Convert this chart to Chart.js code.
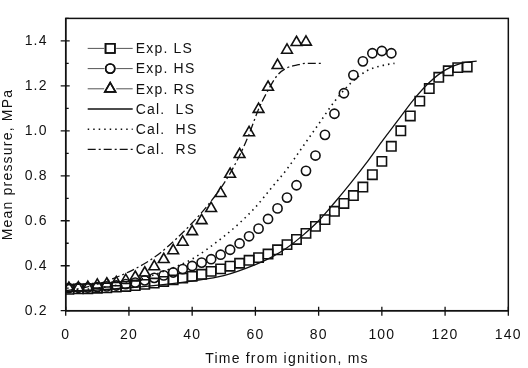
<!DOCTYPE html>
<html>
<head>
<meta charset="utf-8">
<script src="https://cdn.jsdelivr.net/npm/chart.js@4.4.1/dist/chart.umd.min.js"></script>
<style>
html,body{margin:0;padding:0;background:#fff;}
#wrap{width:528px;height:368px;}
</style>
</head>
<body>
<div id="wrap"><canvas id="c" width="528" height="368"></canvas></div>
<script>
// ---- data ----
const expLSTime = [1,4,7,10,13,16,19,22,25,28,31,34,37,40,43,46,49,52,55,58,61,64,67,70,73,76,79,82,85,88,91,94,97,100,103,106,109,112,115,118,121,124,127];
const expLSPressure = [0.295,0.297,0.298,0.300,0.302,0.305,0.308,0.312,0.317,0.323,0.330,0.337,0.345,0.353,0.362,0.375,0.386,0.398,0.411,0.424,0.436,0.452,0.471,0.494,0.517,0.544,0.575,0.605,0.642,0.677,0.712,0.750,0.805,0.864,0.931,1.000,1.066,1.132,1.188,1.238,1.267,1.281,1.284];

const expHSTime = [1,4,7,10,13,16,19,22,25,28,31,34,37,40,43,46,49,52,55,58,61,64,67,70,73,76,79,82,85,88,91,94,97,100,103];
const expHSPressure = [0.300,0.302,0.303,0.305,0.308,0.312,0.318,0.325,0.335,0.346,0.357,0.370,0.385,0.399,0.414,0.429,0.449,0.471,0.499,0.531,0.565,0.608,0.655,0.703,0.758,0.822,0.890,0.982,1.076,1.167,1.248,1.309,1.345,1.355,1.345];

const expRSTime = [1,4,7,10,13,16,19,22,25,28,31,34,37,40,43,46,49,52,55,58,61,64,67,70,73,76];
const expRSPressure = [0.300,0.302,0.304,0.314,0.319,0.325,0.335,0.349,0.368,0.396,0.428,0.467,0.505,0.552,0.601,0.655,0.722,0.807,0.895,0.992,1.096,1.194,1.291,1.359,1.393,1.395];

const calLSTime = [0,10,20,30,40,50,60,65,70,75,80,85,90,95,100,105,110,115,120,125,130];
const calLSPressure = [0.285,0.292,0.302,0.315,0.332,0.356,0.405,0.437,0.480,0.535,0.600,0.680,0.765,0.855,0.952,1.045,1.138,1.215,1.270,1.300,1.310];

const calHSTime = [0,10,20,30,40,50,55,60,65,70,75,80,85,90,95,100,104];
const calHSPressure = [0.290,0.300,0.325,0.370,0.430,0.530,0.590,0.660,0.745,0.830,0.930,1.030,1.130,1.210,1.265,1.290,1.300];

const calRSTime = [0,5,10,15,20,25,30,35,40,45,50,55,58,61,64,67,70,73,76,81];
const calRSPressure = [0.290,0.300,0.318,0.343,0.373,0.410,0.458,0.520,0.590,0.670,0.765,0.890,0.985,1.096,1.180,1.248,1.280,1.292,1.300,1.300];

const seriesLabels = ['Exp. LS','Exp. HS','Exp. RS','Cal.  LS','Cal.  HS','Cal.  RS'];
const xTickLabels = ['0','20','40','60','80','100','120','140'];
const yTickLabels = ['0.2','0.4','0.6','0.8','1.0','1.2','1.4'];
const xTitle = 'Time from ignition, ms';
const yTitle = 'Mean pressure, MPa';

// ---- build chart ----
const INK = '#111';
const FONT = "'Liberation Sans', Arial, sans-serif";
const pts = (xs, ys) => xs.map((x, i) => ({x, y: ys[i]}));

const markerDS = (label, xs, ys, style, r) => ({
  label, data: pts(xs, ys), showLine: false,
  pointStyle: style, pointRadius: r, pointHoverRadius: r,
  pointBorderWidth: 1.6, pointBorderColor: INK, pointBackgroundColor: 'rgba(0,0,0,0)',
  borderColor: '#666', borderWidth: 1
});
const lineDS = (label, xs, ys, dash, w) => ({
  label, data: pts(xs, ys), showLine: true, pointRadius: 0, pointHoverRadius: 0,
  borderColor: INK, borderWidth: w, borderDash: dash, fill: false,
  cubicInterpolationMode: 'monotone'
});

const datasets = [
  markerDS(seriesLabels[0], expLSTime, expLSPressure, 'rect', 6.6),
  markerDS(seriesLabels[1], expHSTime, expHSPressure, 'circle', 4.6),
  markerDS(seriesLabels[2], expRSTime, expRSPressure, 'triangle', 6.2),
  lineDS(seriesLabels[3], calLSTime, calLSPressure, [], 1.3),
  lineDS(seriesLabels[4], calHSTime, calHSPressure, [1.5, 4], 1.6),
  lineDS(seriesLabels[5], calRSTime, calRSPressure, [8, 3, 2, 3], 1.3)
];

const framePlugin = {
  id: 'frame',
  beforeDraw(chart) { chart.ctx.letterSpacing = '1.2px'; },
  afterDraw(chart) {
    const {ctx, chartArea: a, scales} = chart;
    ctx.save();
    ctx.strokeStyle = INK;
    ctx.lineWidth = 1.5;
    ctx.strokeRect(a.left, a.top, a.right - a.left, a.bottom - a.top);
    ctx.lineWidth = 1.3;
    ctx.beginPath();
    for (let v = 0; v <= 140; v += 20) {
      const px = scales.x.getPixelForValue(v);
      ctx.moveTo(px, a.bottom + 5); ctx.lineTo(px, a.bottom - 4);
    }
    for (let k = 2; k <= 15; k++) {
      const v = k / 10;
      const py = scales.y.getPixelForValue(v);
      if (k % 2 === 0 && k <= 14) { ctx.moveTo(a.left - 5, py); ctx.lineTo(a.left + 4, py); }
      else { ctx.moveTo(a.left, py); ctx.lineTo(a.left + 3, py); }
    }
    ctx.stroke();

    // legend
    ctx.letterSpacing = '1.2px';
    ctx.font = '14px ' + FONT;
    ctx.fillStyle = INK;
    ctx.textBaseline = 'middle';
    const x0 = a.left + 22, x1 = a.left + 67, xt = a.left + 70;
    chart.data.datasets.forEach((ds, i) => {
      const y = a.top + 30 + i * 20.2;
      ctx.save();
      if (ds.showLine) {
        ctx.strokeStyle = INK; ctx.lineWidth = ds.borderWidth;
        ctx.setLineDash(ds.borderDash);
        ctx.beginPath(); ctx.moveTo(x0, y); ctx.lineTo(x1, y); ctx.stroke();
      } else {
        ctx.strokeStyle = '#555'; ctx.lineWidth = 1;
        ctx.beginPath(); ctx.moveTo(x0, y); ctx.lineTo(x1, y); ctx.stroke();
        const xm = (x0 + x1) / 2;
        ctx.fillStyle = '#fff';
        ctx.fillRect(xm - 6, y - 6, 12, 12);
        ctx.strokeStyle = INK; ctx.lineWidth = 1.6;
        Chart.helpers.drawPoint(ctx, {pointStyle: ds.pointStyle, radius: ds.pointRadius, borderWidth: 1.6}, xm, y);
        ctx.stroke();
      }
      ctx.restore();
      ctx.fillText(ds.label, xt, y + 1);
    });
    ctx.restore();
  }
};

new Chart(document.getElementById('c'), {
  type: 'scatter',
  data: {datasets},
  options: {
    responsive: false,
    animation: false,
    devicePixelRatio: 1,
    layout: {padding: {left: 0, right: 14, top: 6, bottom: 0}},
    plugins: {legend: {display: false}, tooltip: {enabled: false}},
    elements: {line: {tension: 0}},
    scales: {
      x: {
        type: 'linear', min: 0, max: 140,
        afterFit: s => { s.height = 57.3; },
        grid: {display: false, drawOnChartArea: false},
        border: {display: true, color: INK, width: 1.5},
        ticks: {
          stepSize: 20, color: INK, padding: 8, maxRotation: 0,
          font: {family: FONT, size: 14},
          callback: (v) => xTickLabels[Math.round(v / 20)] ?? ''
        },
        title: {display: true, text: xTitle, color: INK, font: {family: FONT, size: 14}, padding: {top: 1, bottom: 0}}
      },
      y: {
        type: 'linear', min: 0.2, max: 1.5,
        afterFit: s => { s.width = 65.7; },
        grid: {display: false, drawOnChartArea: false},
        border: {display: true, color: INK, width: 1.5},
        ticks: {
          stepSize: 0.2, includeBounds: false, color: INK, padding: 10,
          font: {family: FONT, size: 14},
          callback: (v) => {
            const k = Math.round((v - 0.2) / 0.2);
            return Math.abs(v - (0.2 + 0.2 * k)) < 1e-6 ? (yTickLabels[k] ?? '') : '';
          }
        },
        title: {display: true, text: yTitle, color: INK, font: {family: FONT, size: 14}, padding: {top: 0, bottom: 4}}
      }
    }
  },
  plugins: [framePlugin]
});
</script>
</body>
</html>
